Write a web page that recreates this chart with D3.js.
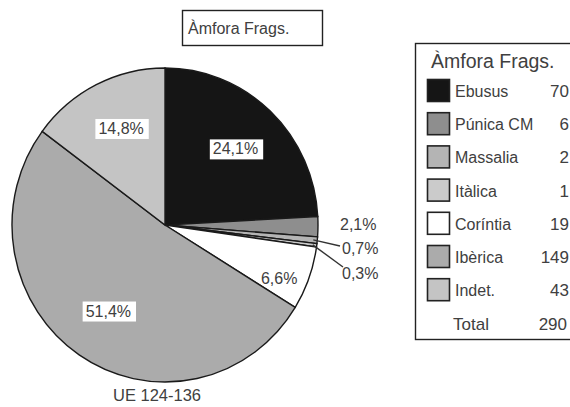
<!DOCTYPE html>
<html>
<head>
<meta charset="utf-8">
<script src="https://cdn.jsdelivr.net/npm/d3@7"></script>
<style>
  body { margin: 0; background: #fff; }
  svg { display: block; font-family: "Liberation Sans", Arial, sans-serif; }
</style>
</head>
<body>
<svg id="chart" width="570" height="407"></svg>
<script>
// Data
const categories = ["Ebusus", "Púnica CM", "Massalia", "Itàlica", "Coríntia", "Ibèrica", "Indet."];
const counts = [70, 6, 2, 1, 19, 149, 43];
const percentLabels = ["24,1%", "2,1%", "0,7%", "0,3%", "6,6%", "51,4%", "14,8%"];
const sliceColors = ["#151515", "#8e8e8e", "#b4b4b4", "#cbcbcb", "#ffffff", "#ababab", "#c4c4c4"];
const totalLabel = "290";
const chartTitle = "Àmfora Frags.";
const pieCaption = "UE 124-136";

const svg = d3.select("#chart");
const textColor = "#404040";

// Pie geometry
const cx = 165, cy = 225, radius = 153, yStretch = 157 / 153;
const pie = d3.pie().sort(null).value((d) => d);
const arcs = pie(counts);
const arc = d3.arc().innerRadius(0).outerRadius(radius);

const pieGroup = svg
  .append("g")
  .attr("transform", `translate(${cx},${cy}) scale(1,${yStretch})`);

pieGroup
  .selectAll("path.slice")
  .data(arcs)
  .enter()
  .append("path")
  .classed("slice", true)
  .attr("d", arc)
  .style("fill", (_, i) => sliceColors[i])
  .style("stroke", "#1a1a1a")
  .style("stroke-width", 1.4)
  .style("vector-effect", "non-scaling-stroke");

// Label layout: inside labels with a white box, or outside labels
const labelMode = ["box", "out", "lead", "lead", "plain", "box", "box"];
const labelRadiusFactor = [0.67, 1.27, 1.3, 1.33, 0.82, 0.66, 0.68];
const labelAngleShift = [0, 0, 0, 0, 0.08, 0, 0.03];
const outsideAnchor = [null, [175, -1], [177, 23], [177, 48], null, null, null];
const leaderEnd = [null, null, [175, 21], [178, 42], null, null, null];

const labelG = svg.append("g").attr("transform", `translate(${cx},${cy})`);

arcs.forEach((d, i) => {
  const mid = (d.startAngle + d.endAngle) / 2 + labelAngleShift[i];
  let x, y;
  if (outsideAnchor[i]) {
    [x, y] = outsideAnchor[i];
  } else {
    const r = radius * labelRadiusFactor[i];
    x = Math.sin(mid) * r;
    y = -Math.cos(mid) * r * yStretch;
  }

  // Leader lines for tiny slices
  if (labelMode[i] === "lead") {
    const edgeR = radius - 4;
    const ex = Math.sin(mid) * edgeR;
    const ey = -Math.cos(mid) * edgeR * yStretch;
    labelG
      .append("path")
      .attr("d", d3.line()([[ex, ey], leaderEnd[i]]))
      .style("fill", "none")
      .style("stroke", "#333")
      .style("stroke-width", 1.4);
  }

  const anchor = labelMode[i] === "box" || labelMode[i] === "plain" ? "middle" : "start";
  const t = labelG
    .append("text")
    .attr("x", x)
    .attr("y", y)
    .attr("dy", "0.36em")
    .attr("text-anchor", anchor)
    .style("font-size", "16px")
    .style("fill", textColor)
    .text(percentLabels[i]);

  if (labelMode[i] === "box") {
    const bb = t.node().getBBox();
    labelG
      .insert("rect", "text:last-of-type")
      .attr("x", bb.x - 3)
      .attr("y", bb.y - 1)
      .attr("width", bb.width + 8)
      .attr("height", bb.height + 3)
      .style("fill", "#fff");
    t.raise();
  }
});

svg
  .append("text")
  .attr("x", 157)
  .attr("y", 401)
  .attr("text-anchor", "middle")
  .style("font-size", "16.5px")
  .style("fill", textColor)
  .text(pieCaption);

// Title box
const titleG = svg.append("g");
titleG
  .append("rect")
  .attr("x", 182.5)
  .attr("y", 10.5)
  .attr("width", 140)
  .attr("height", 35)
  .style("fill", "#fff")
  .style("stroke", "#222")
  .style("stroke-width", 1.4);
titleG
  .append("text")
  .attr("x", 188)
  .attr("y", 33.5)
  .style("font-size", "16px")
  .style("fill", textColor)
  .text(chartTitle);

// Legend
const legendG = svg.append("g");
legendG
  .append("rect")
  .attr("x", 415.5)
  .attr("y", 43.5)
  .attr("width", 170)
  .attr("height", 296)
  .style("fill", "#fff")
  .style("stroke", "#222")
  .style("stroke-width", 1.4);
legendG
  .append("text")
  .attr("x", 431)
  .attr("y", 68)
  .style("font-size", "19.5px")
  .style("fill", textColor)
  .text(chartTitle);

const rowY = d3.scaleLinear().domain([0, 1]).range([79, 112.2]);

const rows = legendG
  .selectAll("g.legend-row")
  .data(categories)
  .enter()
  .append("g")
  .classed("legend-row", true)
  .attr("transform", (_, i) => `translate(0,${rowY(i)})`);

rows
  .append("rect")
  .attr("x", 427.5)
  .attr("y", 0.5)
  .attr("width", 22)
  .attr("height", 22)
  .style("fill", (_, i) => sliceColors[i])
  .style("stroke", "#222")
  .style("stroke-width", 1.6);
rows
  .append("text")
  .attr("x", 455)
  .attr("y", 18)
  .style("font-size", "16px")
  .style("fill", textColor)
  .text((d) => d);
rows
  .append("text")
  .attr("x", 569)
  .attr("y", 18)
  .attr("text-anchor", "end")
  .style("font-size", "17px")
  .style("fill", textColor)
  .text((_, i) => counts[i]);

legendG
  .append("text")
  .attr("x", 453)
  .attr("y", 330)
  .style("font-size", "17px")
  .style("fill", textColor)
  .text("Total");
legendG
  .append("text")
  .attr("x", 567)
  .attr("y", 330)
  .attr("text-anchor", "end")
  .style("font-size", "17px")
  .style("fill", textColor)
  .text(totalLabel);
</script>
</body>
</html>
